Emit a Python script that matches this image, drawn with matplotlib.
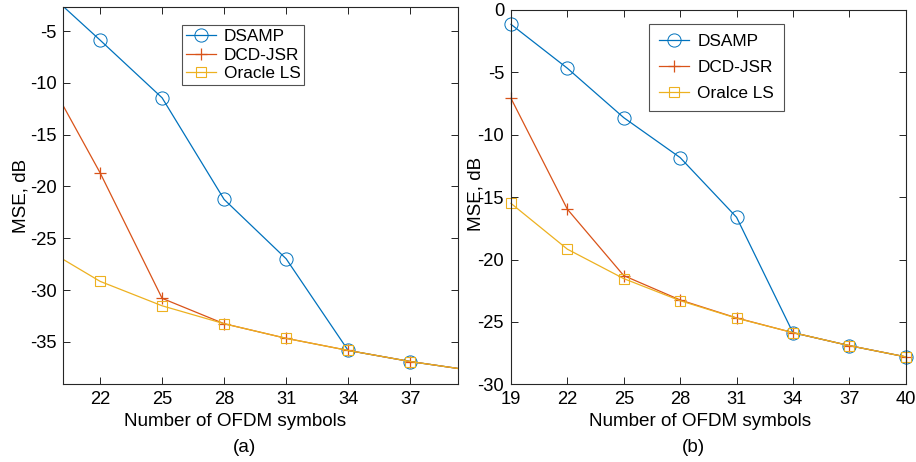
import numpy as np
import matplotlib.pyplot as plt

plt.rcParams['font.family'] = ['Liberation Sans', 'DejaVu Sans']
plt.rcParams['axes.unicode_minus'] = False

x = [19, 22, 25, 28, 31, 34, 37, 40]

# panel (a)
a_dsamp = [-0.4, -5.87, -11.44, -21.25, -26.98, -35.83, -36.9, -37.77]
a_dcd = [-7.8, -18.68, -30.8, -33.25, -34.66, -35.83, -36.9, -37.77]
a_oracle = [-25.6, -29.16, -31.52, -33.25, -34.66, -35.83, -36.9, -37.77]

# panel (b)
b_dsamp = [-1.15, -4.67, -8.63, -11.83, -16.61, -25.86, -26.9, -27.8]
b_dcd = [-7.08, -15.97, -21.29, -23.24, -24.68, -25.86, -26.9, -27.8]
b_oracle = [-15.5, -19.17, -21.53, -23.3, -24.7, -25.86, -26.9, -27.8]

W, H = 916, 462
fig = plt.figure(figsize=(W / 100, H / 100), dpi=100)

def px_axes(x0, y0, x1, y1):
    return fig.add_axes([x0 / W, 1 - y1 / H, (x1 - x0) / W, (y1 - y0) / H])

colors = ['#0072BD', '#D95319', '#EDB120']
fs = 13.2
lfs = 12.4

def draw(ax, ys, names, clip):
    kw = dict(lw=0.9, clip_on=clip)
    ax.plot(x, ys[0], color=colors[0], marker='o', ms=9.5, mfc='none', mew=0.7, label=names[0], **kw)
    ax.plot(x, ys[1], color=colors[1], marker='+', ms=8, mew=0.9, label=names[1], **kw)
    ax.plot(x, ys[2], color=colors[2], marker='s', ms=6.5, mfc='none', mew=0.8, label=names[2], **kw)
    ax.tick_params(direction='in', top=True, right=True, labelsize=fs, length=5, width=0.6, pad=5)
    for s in ax.spines.values():
        s.set_linewidth(0.8)
        s.set_color('#262626')

# -----------------------
# Panel (a)
# -----------------------
ax1 = px_axes(63.3, 7.3, 457.7, 384.3)
draw(ax1, [a_dsamp, a_dcd, a_oracle], ['DSAMP', 'DCD-JSR', 'Oracle LS'], True)
ax1.set_xlim(20.22, 39.3)
ax1.set_ylim(-39.1, -2.7)
ax1.set_xticks([22, 25, 28, 31, 34, 37])
ax1.set_yticks([-35, -30, -25, -20, -15, -10, -5])
ax1.legend(loc='upper left', bbox_to_anchor=((182.3 - 63.3) / 394.4, 1 - (25.3 - 7.3) / 377),
           fontsize=lfs, frameon=True, fancybox=False, edgecolor='#262626', borderpad=0.2,
           labelspacing=0.22, handlelength=1.75, handletextpad=0.45, borderaxespad=0)

# -----------------------
# Panel (b)
# -----------------------
ax2 = px_axes(511, 10, 905.7, 384.3)
draw(ax2, [b_dsamp, b_dcd, b_oracle], ['DSAMP', 'DCD-JSR', 'Oralce LS'], False)
ax2.set_xlim(19, 40)
ax2.set_ylim(-30, 0)
ax2.set_xticks(x)
ax2.set_yticks([-30, -25, -20, -15, -10, -5, 0])
ax2.legend(loc='upper left', bbox_to_anchor=((649 - 511) / 394.7, 1 - (24 - 10) / 374.3),
           fontsize=lfs, frameon=True, fancybox=False, edgecolor='#262626', borderpad=0.6,
           labelspacing=0.62, handlelength=1.75, handletextpad=0.45, borderaxespad=0)

for a in (ax1, ax2):
    a.get_legend().get_frame().set_linewidth(0.8)

fig.text(235.3 / W, 1 - 421 / H, 'Number of OFDM symbols', ha='center', va='center', fontsize=fs + 0.4)
fig.text(245 / W, 1 - 448 / H, '(a)', ha='center', va='center', fontsize=fs + 0.4)
fig.text(21 / W, 1 - 196 / H, 'MSE, dB', ha='center', va='center', rotation=90, fontsize=fs + 0.4)

fig.text(700.3 / W, 1 - 421 / H, 'Number of OFDM symbols', ha='center', va='center', fontsize=fs + 0.4)
fig.text(693 / W, 1 - 448 / H, '(b)', ha='center', va='center', fontsize=fs + 0.4)
fig.text(476 / W, 1 - 194 / H, 'MSE, dB', ha='center', va='center', rotation=90, fontsize=fs + 0.4)

fig.savefig('out.png', dpi=100)
